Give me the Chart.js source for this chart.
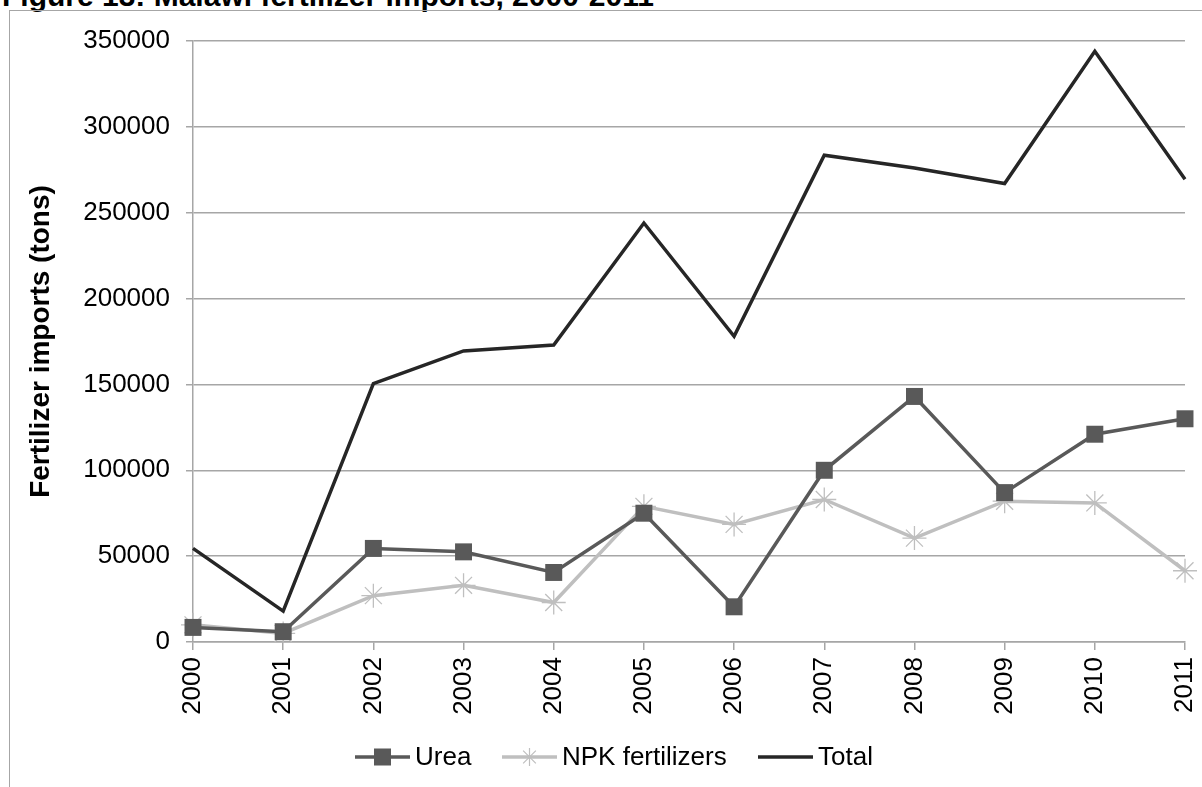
<!DOCTYPE html>
<html>
<head>
<meta charset="utf-8">
<script src="https://cdn.jsdelivr.net/npm/chart.js@4"></script>
<style>
  html, body { margin: 0; padding: 0; background: #fff; overflow: hidden; }
  #titulo {
    position: absolute; left: 2px; top: -19px;
    font: bold 30px "Liberation Sans", Arial, sans-serif; line-height: 30px;
    color: #000; white-space: nowrap;
  }
  #marco {
    position: absolute; left: 9px; top: 10px; width: 1300px; height: 900px;
    border: 1.5px solid #a6a6a6; box-sizing: border-box;
  }
  #contenedor { position: absolute; left: 0; top: 0; width: 1202px; height: 787px; }
</style>
</head>
<body>
<div id="titulo">Figure 13: Malawi fertilizer imports, 2000-2011</div>
<div id="marco"></div>
<div id="contenedor"><canvas id="chart"></canvas></div>
<script>
// datos
const anios = ["2000", "2001", "2002", "2003", "2004", "2005", "2006", "2007", "2008", "2009", "2010", "2011"];
const urea = [8500, 6000, 54500, 52500, 40500, 75000, 20500, 100000, 143000, 87000, 121000, 130000];
const npk = [10000, 5000, 27000, 33000, 23000, 79000, 68500, 83000, 60500, 82000, 81000, 41500];
const total = [54500, 18000, 150500, 169500, 173000, 244000, 178000, 283500, 276000, 267000, 344000, 269500];

const fuente = "'Liberation Sans', Arial, sans-serif";
const colorGrilla = "#a6a6a6";

// leyenda dibujada a mano: linea + marcador, como en Excel
const leyendaPlugin = {
  id: "leyendaExcel",
  afterDraw(chart) {
    const ctx = chart.ctx;
    const items = [
      { texto: "Urea", color: "#595959", marcador: "rect", x: 355 },
      { texto: "NPK fertilizers", color: "#bfbfbf", marcador: "star", x: 502 },
      { texto: "Total", color: "#262626", marcador: null, x: 758 },
    ];
    const y = 757;
    ctx.save();
    items.forEach((it) => {
      ctx.strokeStyle = it.color;
      ctx.lineWidth = 3.5;
      ctx.beginPath();
      ctx.moveTo(it.x, y);
      ctx.lineTo(it.x + 55, y);
      ctx.stroke();
      const cx = it.x + 27.5;
      if (it.marcador === "rect") {
        ctx.fillStyle = it.color;
        ctx.fillRect(cx - 8.5, y - 8.5, 17, 17);
      } else if (it.marcador === "star") {
        ctx.strokeStyle = it.color;
        ctx.lineWidth = 1.2;
        Chart.helpers.drawPoint(ctx, { pointStyle: "star", radius: 9, borderWidth: 1.2 }, cx, y);
      }
      ctx.fillStyle = "#000";
      ctx.font = "26px " + fuente;
      ctx.textBaseline = "middle";
      ctx.fillText(it.texto, it.x + 60, y + 1);
    });
    ctx.restore();
  },
};

new Chart(document.getElementById("chart"), {
  type: "line",
  data: {
    labels: anios,
    datasets: [
      {
        label: "Urea",
        data: urea,
        borderColor: "#595959",
        backgroundColor: "#595959",
        borderWidth: 3.5,
        pointStyle: "rect",
        pointRadius: 12,
        pointBorderWidth: 0,
        tension: 0,
      },
      {
        label: "NPK fertilizers",
        data: npk,
        borderColor: "#bfbfbf",
        backgroundColor: "#bfbfbf",
        borderWidth: 3.5,
        pointStyle: "star",
        pointRadius: 12,
        pointBorderWidth: 1.3,
        tension: 0,
      },
      {
        label: "Total",
        data: total,
        borderColor: "#262626",
        backgroundColor: "#262626",
        borderWidth: 3.5,
        pointRadius: 0,
        tension: 0,
      },
    ],
  },
  options: {
    responsive: true,
    maintainAspectRatio: false,
    animation: false,
    events: [],
    layout: { padding: { left: 0, right: 17, top: 41, bottom: 0 } },
    plugins: {
      legend: { display: false },
      tooltip: { enabled: false },
    },
    scales: {
      x: {
        offset: false,
        grid: {
          drawOnChartArea: false,
          drawTicks: true,
          tickLength: 8,
          color: colorGrilla,
          lineWidth: 1.5,
        },
        border: { color: colorGrilla, width: 1.5 },
        ticks: {
          minRotation: 90,
          maxRotation: 90,
          padding: 7,
          color: "#000",
          font: { family: fuente, size: 26 },
        },
        afterFit: (s) => {
          s.height = 145;
          s.paddingLeft = 0;
          s.paddingRight = 0;
        },
      },
      y: {
        min: 0,
        max: 350000,
        ticks: {
          stepSize: 50000,
          padding: 16,
          color: "#000",
          font: { family: fuente, size: 26 },
          callback: (v) => String(v),
        },
        grid: {
          color: colorGrilla,
          lineWidth: 1.5,
          tickLength: 7,
        },
        border: { color: colorGrilla, width: 1.5 },
        title: {
          display: true,
          text: "Fertilizer imports (tons)",
          color: "#000",
          font: { family: fuente, size: 28, weight: "bold" },
          padding: { top: 24, bottom: 0 },
        },
        afterFit: (s) => { s.width = 193; },
      },
    },
  },
  plugins: [leyendaPlugin],
});
</script>
</body>
</html>
